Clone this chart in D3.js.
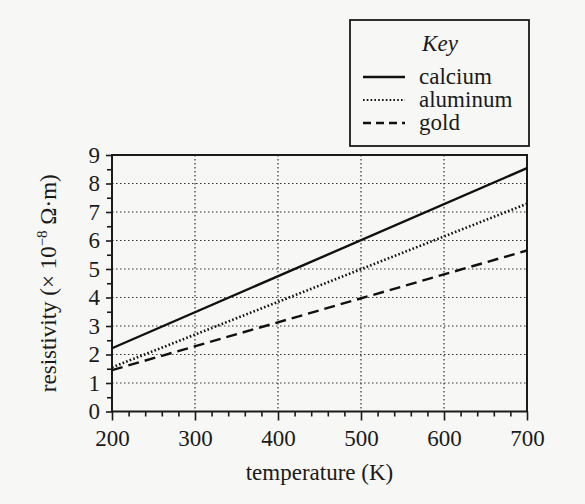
<!DOCTYPE html>
<html>
<head>
<meta charset="utf-8">
<script src="https://cdn.jsdelivr.net/npm/d3@7"></script>
<style>
  body { margin: 0; background: #f7f7f5; }
  svg { display: block; }
  .grid line { stroke: #333; stroke-width: 1.2; stroke-dasharray: 1.5 2.5; }
  .axis line { stroke: #1a1a1a; stroke-width: 1.6; }
</style>
</head>
<body>
<div class="chart"></div>
<script>
// chart data
var temps = [200, 700];
var calcium = [2.22, 8.54];
var aluminum = [1.55, 7.29];
var gold = [1.45, 5.65];

var seriesNames = ["calcium", "aluminum", "gold"];
var seriesDash = ["none", "1.6 2.2", "11 6"];

var xTicks = [200, 300, 400, 500, 600, 700];
var yTicks = [0, 1, 2, 3, 4, 5, 6, 7, 8, 9];

var serif = "'Liberation Serif', 'Times New Roman', serif";

var svgWidth = 585;
var svgHeight = 504;

var plot = { left: 112, right: 527, top: 155, bottom: 411.5 };

var svg = d3.select(".chart")
  .append("svg")
  .attr("width", svgWidth)
  .attr("height", svgHeight)
  .style("font-family", serif);

var xScale = d3.scaleLinear().domain([200, 700]).range([plot.left, plot.right]);
var yScale = d3.scaleLinear().domain([0, 9]).range([plot.bottom, plot.top]);

// gridlines
var grid = svg.append("g").attr("class", "grid");
grid.selectAll(".vg")
  .data(xTicks.slice(1, -1))
  .enter()
  .append("line")
  .attr("x1", d => xScale(d))
  .attr("x2", d => xScale(d))
  .attr("y1", plot.top)
  .attr("y2", plot.bottom);
grid.selectAll(".hg")
  .data(yTicks.slice(1, -1))
  .enter()
  .append("line")
  .attr("x1", plot.left)
  .attr("x2", plot.right)
  .attr("y1", d => yScale(d))
  .attr("y2", d => yScale(d));

// minor ticks
var xMinor = d3.range(200, 701, 20).filter(v => v % 100 !== 0);
var yMinor = d3.range(0.5, 9, 1);

function styleAxis(g) {
  g.select(".domain").remove();
  g.attr("font-family", serif).attr("font-size", 23);
  g.selectAll("text").style("font-family", serif).attr("fill", "#1a1a1a");
}

svg.append("g")
  .attr("class", "axis")
  .attr("transform", `translate(0, ${plot.bottom})`)
  .call(d3.axisBottom(xScale).tickValues(xMinor).tickSize(5).tickFormat(""))
  .call(styleAxis);

svg.append("g")
  .attr("class", "axis")
  .attr("transform", `translate(0, ${plot.bottom})`)
  .call(d3.axisBottom(xScale).tickValues(xTicks).tickSize(9).tickPadding(9).tickFormat(d3.format("d")))
  .call(styleAxis);

svg.append("g")
  .attr("class", "axis")
  .attr("transform", `translate(${plot.left}, 0)`)
  .call(d3.axisLeft(yScale).tickValues(yMinor).tickSize(5).tickFormat(""))
  .call(styleAxis);

svg.append("g")
  .attr("class", "axis")
  .attr("transform", `translate(${plot.left}, 0)`)
  .call(d3.axisLeft(yScale).tickValues(yTicks).tickSize(6).tickPadding(6).tickFormat(d3.format("d")))
  .call(styleAxis);

// frame
svg.append("rect")
  .attr("x", plot.left)
  .attr("y", plot.top)
  .attr("width", plot.right - plot.left)
  .attr("height", plot.bottom - plot.top)
  .attr("fill", "none")
  .attr("stroke", "#1a1a1a")
  .attr("stroke-width", 2);

// series lines
var allSeries = [calcium, aluminum, gold];
var line = d3.line()
  .x((d, i) => xScale(temps[i]))
  .y(d => yScale(d));

svg.selectAll(".series")
  .data(allSeries)
  .enter()
  .append("path")
  .attr("class", "series")
  .attr("d", d => line(d))
  .attr("fill", "none")
  .attr("stroke", "#111")
  .attr("stroke-width", (d, i) => i === 1 ? 2.6 : 2.4)
  .attr("stroke-dasharray", (d, i) => seriesDash[i]);

// axis titles
svg.append("text")
  .attr("x", (plot.left + plot.right) / 2)
  .attr("y", 480)
  .attr("text-anchor", "middle")
  .style("font-family", serif)
  .style("font-size", "23px")
  .attr("fill", "#1a1a1a")
  .text("temperature (K)");

var yLabel = svg.append("text")
  .attr("transform", `translate(56, ${(plot.top + plot.bottom) / 2}) rotate(-90)`)
  .attr("text-anchor", "middle")
  .style("font-family", serif)
  .style("font-size", "23px")
  .attr("fill", "#1a1a1a");
yLabel.append("tspan").text("resistivity (× 10");
yLabel.append("tspan").attr("dy", -9).style("font-size", "15px").text("−8");
yLabel.append("tspan").attr("dy", 9).text(" Ω·m)");

// legend
var legend = svg.append("g");
legend.append("rect")
  .attr("x", 350)
  .attr("y", 20)
  .attr("width", 179)
  .attr("height", 126)
  .attr("fill", "none")
  .attr("stroke", "#1a1a1a")
  .attr("stroke-width", 1.8);

legend.append("text")
  .attr("x", 440)
  .attr("y", 51)
  .attr("text-anchor", "middle")
  .style("font-family", serif)
  .style("font-size", "23px")
  .style("font-style", "italic")
  .attr("fill", "#1a1a1a")
  .text("Key");

var legendY = [77, 100, 123];
var items = legend.selectAll(".item")
  .data(seriesNames)
  .enter()
  .append("g");

items.append("line")
  .attr("x1", 363)
  .attr("x2", 405)
  .attr("y1", (d, i) => legendY[i])
  .attr("y2", (d, i) => legendY[i])
  .attr("stroke", "#111")
  .attr("stroke-width", (d, i) => i === 1 ? 2 : 2.4)
  .attr("stroke-dasharray", (d, i) => i === 2 ? "8 5" : seriesDash[i]);

items.append("text")
  .attr("x", 419)
  .attr("y", (d, i) => legendY[i] + 7)
  .style("font-family", serif)
  .style("font-size", "23px")
  .attr("fill", "#1a1a1a")
  .text(d => d);
</script>
</body>
</html>
